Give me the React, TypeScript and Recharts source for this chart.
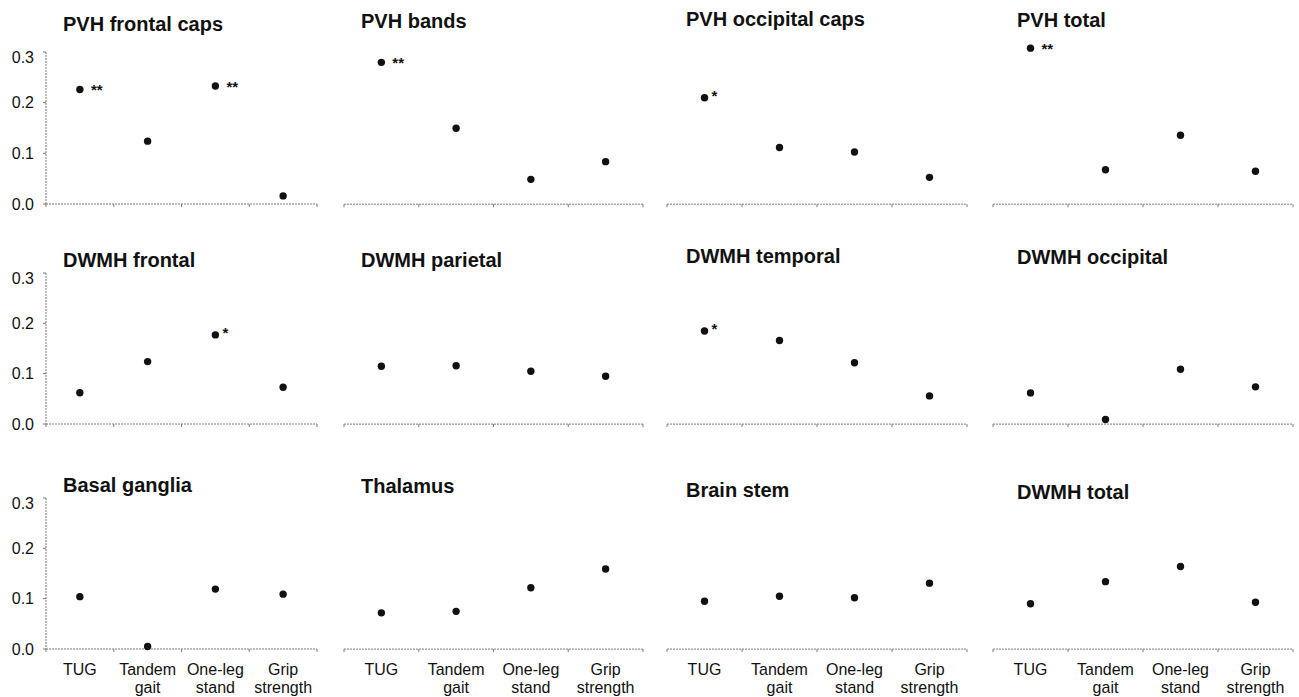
import React from "react";
import { ScatterChart, Scatter, XAxis, YAxis } from "recharts";

const CATEGORIES = ["TUG", "Tandem gait", "One-leg stand", "Grip strength"];
const CATEGORY_LINES = [["TUG"], ["Tandem", "gait"], ["One-leg", "stand"], ["Grip", "strength"]];
const Y_TICKS = [0, 0.1, 0.2, 0.3];

const TITLES = [
  "PVH frontal caps", "PVH bands", "PVH occipital caps", "PVH total",
  "DWMH frontal", "DWMH parietal", "DWMH temporal", "DWMH occipital",
  "Basal ganglia", "Thalamus", "Brain stem", "DWMH total",
];

const PVH_FRONTAL_CAPS = [0.226, 0.124, 0.233, 0.016];
const PVH_BANDS = [0.28, 0.15, 0.049, 0.084];
const PVH_OCCIPITAL_CAPS = [0.21, 0.112, 0.103, 0.053];
const PVH_TOTAL = [0.308, 0.068, 0.136, 0.065];
const DWMH_FRONTAL = [0.062, 0.124, 0.177, 0.073];
const DWMH_PARIETAL = [0.115, 0.116, 0.105, 0.095];
const DWMH_TEMPORAL = [0.185, 0.166, 0.122, 0.056];
const DWMH_OCCIPITAL = [0.062, 0.009, 0.109, 0.074];
const BASAL_GANGLIA = [0.104, 0.005, 0.119, 0.109];
const THALAMUS = [0.072, 0.075, 0.122, 0.159];
const BRAIN_STEM = [0.095, 0.105, 0.102, 0.131];
const DWMH_TOTAL = [0.09, 0.134, 0.164, 0.093];

const SIG_PVH_FRONTAL_CAPS = ["**", "", "**", ""];
const SIG_PVH_BANDS = ["**", "", "", ""];
const SIG_PVH_OCCIPITAL_CAPS = ["*", "", "", ""];
const SIG_PVH_TOTAL = ["**", "", "", ""];
const SIG_DWMH_FRONTAL = ["", "", "*", ""];
const SIG_DWMH_TEMPORAL = ["*", "", "", ""];
const SIG_NONE = ["", "", "", ""];

const SERIES = [
  PVH_FRONTAL_CAPS, PVH_BANDS, PVH_OCCIPITAL_CAPS, PVH_TOTAL,
  DWMH_FRONTAL, DWMH_PARIETAL, DWMH_TEMPORAL, DWMH_OCCIPITAL,
  BASAL_GANGLIA, THALAMUS, BRAIN_STEM, DWMH_TOTAL,
];
const SIGS = [
  SIG_PVH_FRONTAL_CAPS, SIG_PVH_BANDS, SIG_PVH_OCCIPITAL_CAPS, SIG_PVH_TOTAL,
  SIG_DWMH_FRONTAL, SIG_NONE, SIG_DWMH_TEMPORAL, SIG_NONE,
  SIG_NONE, SIG_NONE, SIG_NONE, SIG_NONE,
];

const Y_MAX = 0.3;
const Y_MAX_OPEN = 0.33; // panels without a visible y axis get headroom above 0.3

// layout (pixels)
const COL_X = [46, 344, 667, 993];
const COL_W = [271, 299, 300, 300];
const ROW_TOP = [52, 273, 498];
const ROW_H = [152, 151, 151];
const TITLE_X = [63, 361, 686, 1017];
const TITLE_BASE = [
  [31, 28, 26, 27],
  [267, 267, 263, 264],
  [492, 493, 497, 499],
];
const LEFT_PAD = 40;
const TOP_PAD = 4;
const XAXIS_H = 55;
const AXIS_COLOR = "#7a7a7a";
const FONT = "Arial, 'Liberation Sans', Helvetica, sans-serif";

const Dot = (props: any) => {
  const { cx, cy, payload } = props;
  if (cx == null || cy == null) return null;
  const sig = payload.sig;
  const two = sig && sig.length > 1;
  return (
    <g>
      <circle cx={cx} cy={cy} r={3.7} fill="#111" />
      {sig ? (
        <text
          x={cx + (two ? 11 : 7)}
          y={cy + (two ? 6 : 3)}
          fontSize={15}
          fontWeight="bold"
          fontFamily={FONT}
          fill="#111"
        >
          {sig}
        </text>
      ) : null}
    </g>
  );
};

const makeXTick = (bw: number, showLabel: boolean) => (props: any) => {
  const { x, y, index } = props;
  const lines = CATEGORY_LINES[index] || [];
  return (
    <g>
      <line x1={x - bw / 2} x2={x - bw / 2} y1={y} y2={y + 3} stroke={AXIS_COLOR} />
      {index === 3 ? (
        <line x1={x + bw / 2} x2={x + bw / 2} y1={y} y2={y + 3} stroke={AXIS_COLOR} />
      ) : null}
      {showLabel
        ? lines.map((l: string, i: number) => (
            <text
              key={i}
              x={x}
              y={y + 26 + i * 18}
              textAnchor="middle"
              fontSize={16}
              fontFamily={FONT}
              fill="#111"
            >
              {l}
            </text>
          ))
        : null}
    </g>
  );
};

const Panel = ({ idx }: { idx: number }) => {
  const row = Math.floor(idx / 4);
  const col = idx % 4;
  const w = COL_W[col];
  const showY = col === 0;
  const yMax = showY ? Y_MAX : Y_MAX_OPEN;
  const extra = ((yMax - Y_MAX) / Y_MAX) * ROW_H[row];
  const h = ROW_H[row] + extra;
  const top = ROW_TOP[row] - extra;
  const data = CATEGORIES.map((c, i) => ({ cat: c, v: SERIES[idx][i], sig: SIGS[idx][i] }));
  const bw = w / 4;
  const showLabel = row === 2;
  const cw = w + LEFT_PAD + 30;
  const ch = h + TOP_PAD + XAXIS_H;
  return (
    <div
      style={{
        position: "absolute",
        left: COL_X[col] - LEFT_PAD,
        top: top - TOP_PAD,
        width: cw,
        height: ch,
      }}
    >
      <ScatterChart
        width={cw}
        height={ch}
        margin={{ top: TOP_PAD, right: 30, bottom: 0, left: showY ? 0 : LEFT_PAD }}
        style={{ overflow: "visible" }}
      >
        <XAxis
          type="category"
          dataKey="cat"
          allowDuplicatedCategory={false}
          height={XAXIS_H}
          axisLine={{ stroke: AXIS_COLOR, strokeDasharray: "2 1" }}
          tickLine={false}
          tickSize={0}
          tickMargin={0}
          interval={0}
          tick={makeXTick(bw, showLabel)}
        />
        <YAxis
          type="number"
          dataKey="v"
          domain={[0, yMax]}
          ticks={Y_TICKS}
          hide={!showY}
          width={LEFT_PAD}
          axisLine={{ stroke: AXIS_COLOR, strokeDasharray: "2 1" }}
          tickLine={{ stroke: AXIS_COLOR }}
          tickSize={3}
          tickMargin={9}
          tickFormatter={(v: number) => v.toFixed(1)}
          tick={{ fontSize: 16, fill: "#111", fontFamily: FONT }}
        />
        <Scatter data={data} dataKey="v" isAnimationActive={false} shape={Dot} />
      </ScatterChart>
    </div>
  );
};

export default function App() {
  return (
    <div
      style={{
        position: "absolute",
        left: 0,
        top: 0,
        width: 1299,
        height: 697,
        background: "#fff",
        fontFamily: FONT,
        overflow: "hidden",
      }}
    >
      {TITLES.map((_, i) => (
        <Panel key={i} idx={i} />
      ))}
      <svg
        width={1299}
        height={697}
        style={{ position: "absolute", left: 0, top: 0, pointerEvents: "none" }}
      >
        {TITLES.map((t, i) => (
          <text
            key={i}
            x={TITLE_X[i % 4]}
            y={TITLE_BASE[Math.floor(i / 4)][i % 4]}
            fontSize={20}
            fontWeight="bold"
            fontFamily={FONT}
            fill="#111"
          >
            {t}
          </text>
        ))}
      </svg>
    </div>
  );
}
